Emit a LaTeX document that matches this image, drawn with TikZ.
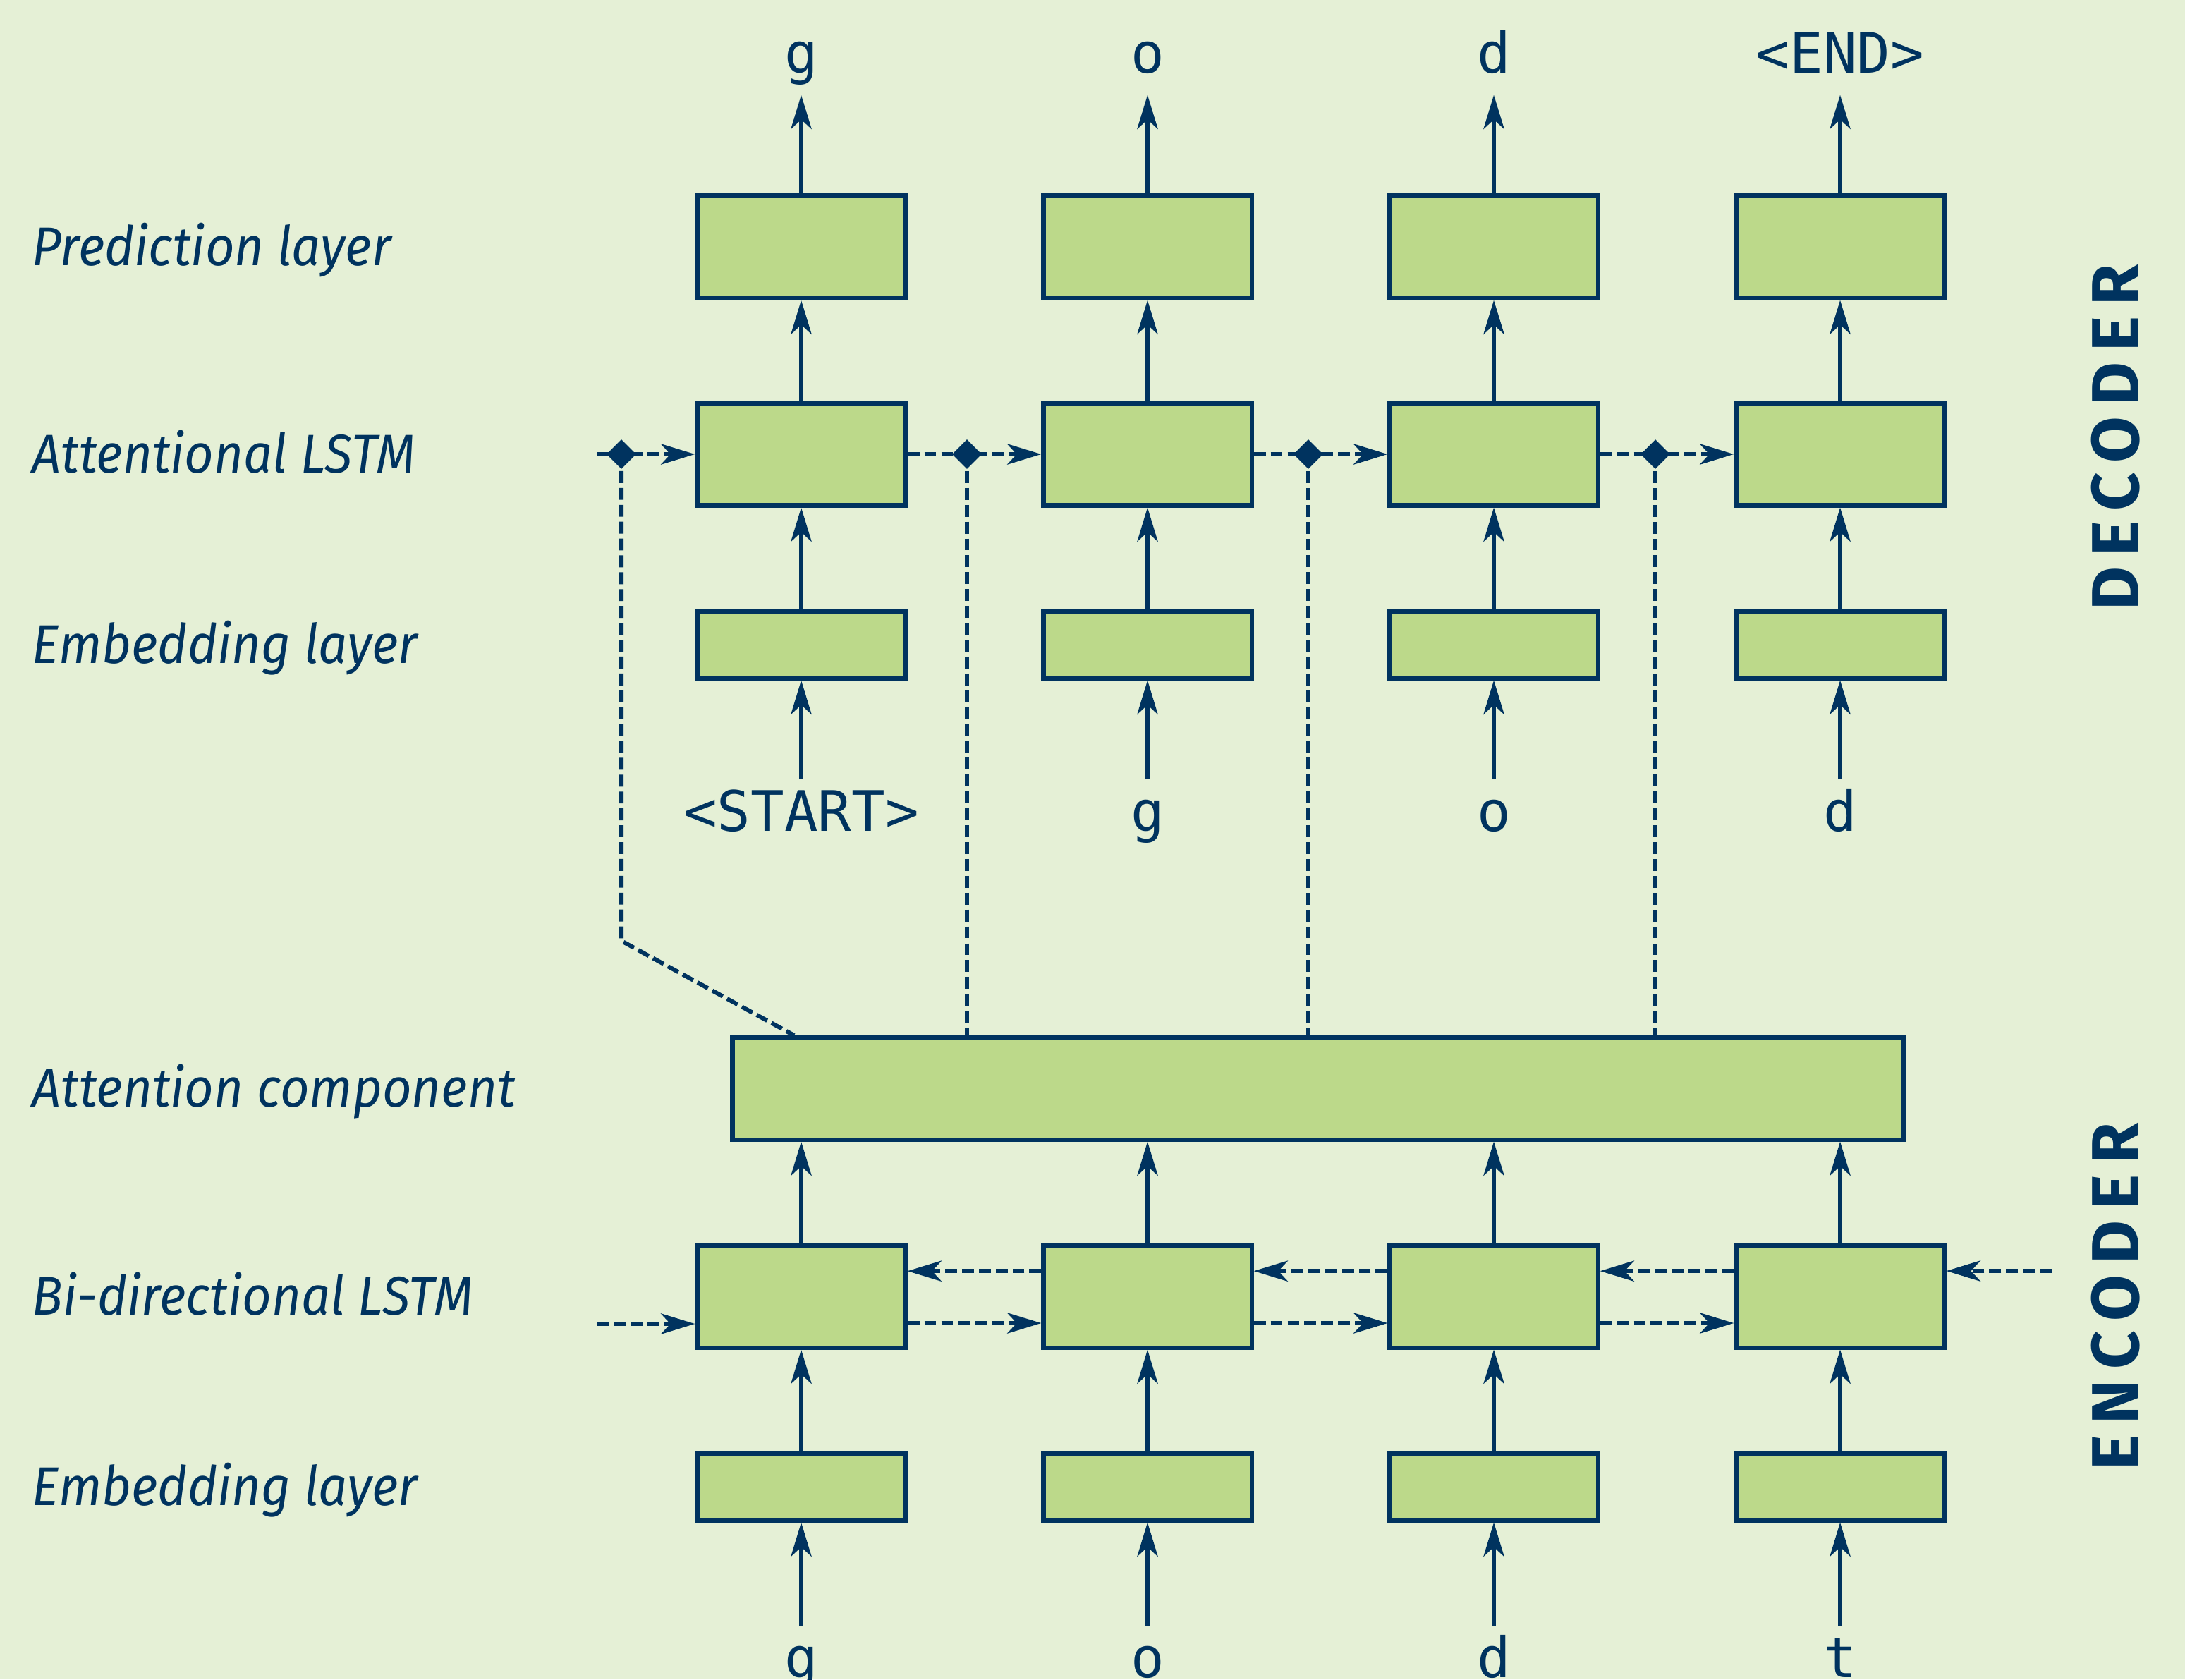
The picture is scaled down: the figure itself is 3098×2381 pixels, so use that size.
\documentclass[tikz,border=0pt]{standalone}
\usepackage{fontspec}
\usetikzlibrary{arrows.meta,shapes.geometric}
\definecolor{navy}{HTML}{00335F}
\definecolor{bgc}{HTML}{E5F0D6}
\definecolor{cellc}{HTML}{BCD98A}
\newfontfamily\labelfont[FakeStretch=0.935]{Fira Sans}
\newfontfamily\tokfont{DejaVu Sans Mono}
\newfontfamily\sidefont[LetterSpace=16]{Fira Sans}

\begin{document}
\begin{tikzpicture}[x=0.01cm, y=-0.01cm,
    cell/.style={draw=navy, fill=cellc, line width=1.75pt, inner sep=0pt, minimum width=2.95cm, minimum height=1.45cm},
    flatcell/.style={cell, minimum height=0.95cm},
    arr/.style={draw=navy, line width=1.7pt, -{Stealth[length=13.7pt, width=8.3pt, inset=3.8pt]}},
    dsh/.style={draw=navy, line width=1.7pt, dash pattern=on 4.8pt off 2pt},
    dmd/.style={diamond, fill=navy, inner sep=0pt, minimum width=12pt, minimum height=12pt},
    lab/.style={anchor=base west, inner sep=0pt, text=navy, font=\labelfont\itshape\fontsize{22}{26}\selectfont},
    tok/.style={anchor=base, inner sep=0pt, text=navy, font=\tokfont\fontsize{22.5}{27}\selectfont},
    outtok/.style={tok, text depth=8.8pt},
    intok/.style={tok, text height=20.5pt},
    sidelab/.style={rotate=90, text=navy, font=\sidefont\bfseries\fontsize{27}{30}\selectfont}]

    \fill[bgc] (0,0) rectangle (3098,2381);
    \useasboundingbox (0,0) rectangle (3098,2381);

    % row labels
    \node[lab] (l1) at (45,376) {Prediction layer};
    \node[lab] (l2) at (45,670) {Attentional LSTM};
    \node[lab] (l3) at (45,940) {Embedding layer};
    \node[lab] (l4) at (45,1569) {Attention component};
    \node[lab] (l5) at (45,1864) {Bi-directional LSTM};
    \node[lab] (l6) at (45,2134) {Embedding layer};

    \node[sidelab] (dec) at (3000,620) {DECODER};
    \node[sidelab] (enc) at (3000,1838) {ENCODER};

    % columns
    \foreach \n/\x/\o/\i/\e in {1/1136/g/{<START>}/g, 2/1627/o/g/o, 3/2118/d/o/d, 4/2609/{<END>}/d/t} {
        \node[cell] (p\n) at (\x,350) {};
        \node[cell] (a\n) at (\x,644) {};
        \node[flatcell] (m\n) at (\x,914) {};
        \node[outtok] (o\n) at (\x,103) {\o};
        \node[intok] (i\n) at (\x,1178) {\i};
        \node[cell] (b\n) at (\x,1838) {};
        \node[flatcell] (n\n) at (\x,2108) {};
        \node[intok] (t\n) at (\x,2378) {\e};
    }
    \node[cell, minimum width=16.6cm] (att) at (1869,1543) {};

    \foreach \n in {1,...,4} {
        \draw[arr] (p\n) -- (o\n);
        \draw[arr] (a\n) -- (p\n);
        \draw[arr] (m\n) -- (a\n);
        \draw[arr] (i\n) -- (m\n);
        \draw[arr] (b\n) -- (att.south -| b\n);
        \draw[arr] (n\n) -- (b\n);
        \draw[arr] (t\n) -- (n\n);
    }

    % decoder state + attention
    \coordinate (s0) at (846,644);
    \draw[arr, dsh] (s0) -- (a1);
    \draw[arr, dsh] (a1) -- (a2);
    \draw[arr, dsh] (a2) -- (a3);
    \draw[arr, dsh] (a3) -- (a4);
    \node[dmd] (k1) at (881,644) {};
    \node[dmd] (k2) at (1371,644) {};
    \node[dmd] (k3) at (1855,644) {};
    \node[dmd] (k4) at (2347,644) {};
    \coordinate (bend) at (881,1334);
    \coordinate (hit) at (1126,1468);
    \draw[dsh] (k1.center) -- (bend) -- (hit);
    \draw[dsh] (k2.center) -- (k2 |- att.north);
    \draw[dsh] (k3.center) -- (k3 |- att.north);
    \draw[dsh] (k4.center) -- (k4 |- att.north);

    % encoder both directions
    \coordinate (s1) at (846,1877);
    \coordinate (s2) at (2909,1802);
    \draw[arr, dsh] (s1) -- (s1 -| b1.west);
    \draw[arr, dsh] ([yshift=-10.8pt]b1.east) -- ([yshift=-10.8pt]b2.west);
    \draw[arr, dsh] ([yshift=-10.8pt]b2.east) -- ([yshift=-10.8pt]b3.west);
    \draw[arr, dsh] ([yshift=-10.8pt]b3.east) -- ([yshift=-10.8pt]b4.west);
    \draw[arr, dsh] (s2) -- (s2 -| b4.east);
    \draw[arr, dsh] ([yshift=10.2pt]b4.west) -- ([yshift=10.2pt]b3.east);
    \draw[arr, dsh] ([yshift=10.2pt]b3.west) -- ([yshift=10.2pt]b2.east);
    \draw[arr, dsh] ([yshift=10.2pt]b2.west) -- ([yshift=10.2pt]b1.east);
\end{tikzpicture}
\end{document}
